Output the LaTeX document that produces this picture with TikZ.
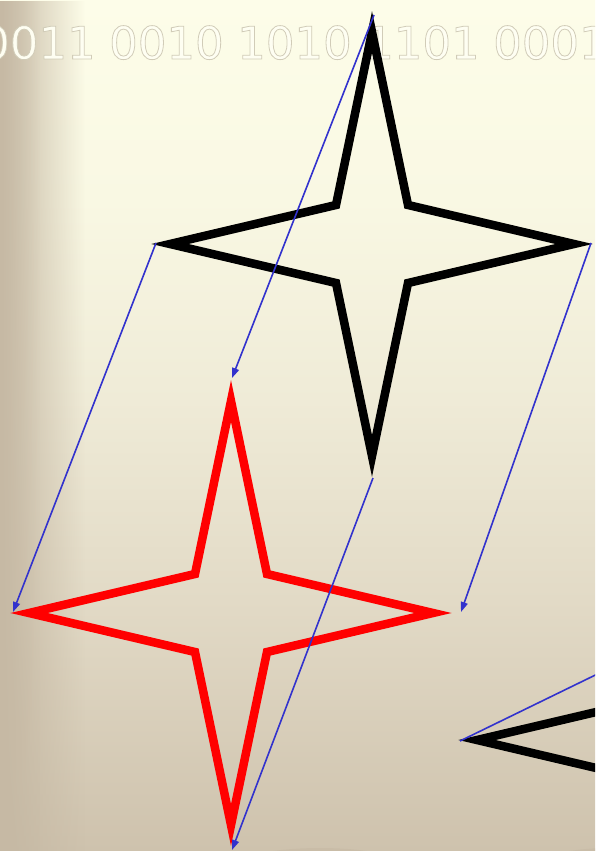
\documentclass[tikz,border=0pt]{standalone}
\usepackage{fontspec}
\newfontfamily\binfont{DejaVu Sans}
\usetikzlibrary{arrows.meta,fadings}
\definecolor{bgtop}{HTML}{FDFDE9}
\definecolor{bgc1}{HTML}{F9F8E3}
\definecolor{bgc2}{HTML}{EFEBD7}
\definecolor{bgc3}{HTML}{E2DAC6}
\definecolor{bgbot}{HTML}{CEC2AD}
\definecolor{stripcol}{HTML}{C6B9A4}
\definecolor{arrowblue}{RGB}{50,50,205}
\definecolor{binfill}{HTML}{FEFEF2}
\pgfdeclareverticalshading{bgshade}{100bp}{color(0bp)=(bgbot); color(25bp)=(bgbot); color(39.75bp)=(bgc3); color(51.5bp)=(bgc2); color(63.25bp)=(bgc1); color(75bp)=(bgtop); color(100bp)=(bgtop)}
\tikzfading[name=fadetoright, left color=transparent!0, right color=transparent!100]
\newcommand\bintxt[1]{\special{pdf:literal direct 2 Tr 0.8 w 0.82 0.80 0.72 RG}#1\special{pdf:literal direct 0 Tr}}
\tikzset{
  starline/.style={line width=8.5pt, line join=miter, miter limit=10},
  bintext/.style={inner sep=0pt, anchor=base west, font=\binfont\fontsize{45}{50}\selectfont, text=binfill},
  blarrow/.style={draw=arrowblue, line width=1.6pt, -{Triangle[length=10pt,width=7pt]}},
  blline/.style={draw=arrowblue, line width=1.6pt}
}
\begin{document}
\begin{tikzpicture}[x=1pt,y=-1pt]
\useasboundingbox (0,0) rectangle (595,851);
\clip (0,0) rectangle (595,851);
% background
\shade[shading=bgshade] (0,0) rectangle (595,851);
\fill[stripcol, path fading=fadetoright] (0,0) rectangle (85,851);
\fill[stripcol, opacity=0.55, path fading=fadetoright] (0,0) rectangle (40,851);
\fill[stripcol, opacity=0.6] (320,864) ellipse [x radius=80, y radius=16];
\fill[stripcol, opacity=0.6] (610,862) ellipse [x radius=65, y radius=14];
% binary text
\node[bintext] (g1) at (-19,59) {\bintxt{0011}};
\node[bintext] (g2) at (109,59) {\bintxt{0010}};
\node[bintext] (g3) at (237,59) {\bintxt{1010}};
\node[bintext] (g4) at (365,59) {\bintxt{1101}};
\node[bintext] (g5) at (493,59) {\bintxt{0001}};
% black star
\draw[starline, black, shift={(372,244)}] (0,-212) -- (36,-39) -- (202,0) -- (36,39) -- (0,212) -- (-36,39) -- (-202,0) -- (-36,-39) -- cycle;
% red star
\draw[starline, red, shift={(231,613)}] (0,-212) -- (36,-39) -- (202,0) -- (36,39) -- (0,212) -- (-36,39) -- (-202,0) -- (-36,-39) -- cycle;
% third star (partly outside)
\draw[starline, black, shift={(679,740)}] (0,-212) -- (36,-39) -- (202,0) -- (36,39) -- (0,212) -- (-36,39) -- (-202,0) -- (-36,-39) -- cycle;
% connector ends
\coordinate (bT) at (374,15);
\coordinate (bL) at (156,243);
\coordinate (bR) at (591,243);
\coordinate (bB) at (373,478);
\coordinate (rT) at (232,378);
\coordinate (rL) at (13,612);
\coordinate (rR) at (461,612);
\coordinate (rB) at (232,850);
\coordinate (cL) at (460,741);
\coordinate (cFar) at (700,624);
\draw[blarrow] (bT) -- (rT);
\draw[blarrow] (bL) -- (rL);
\draw[blarrow] (bR) -- (rR);
\draw[blarrow] (bB) -- (rB);
\draw[blline] (cL) -- (cFar);
\end{tikzpicture}
\end{document}
